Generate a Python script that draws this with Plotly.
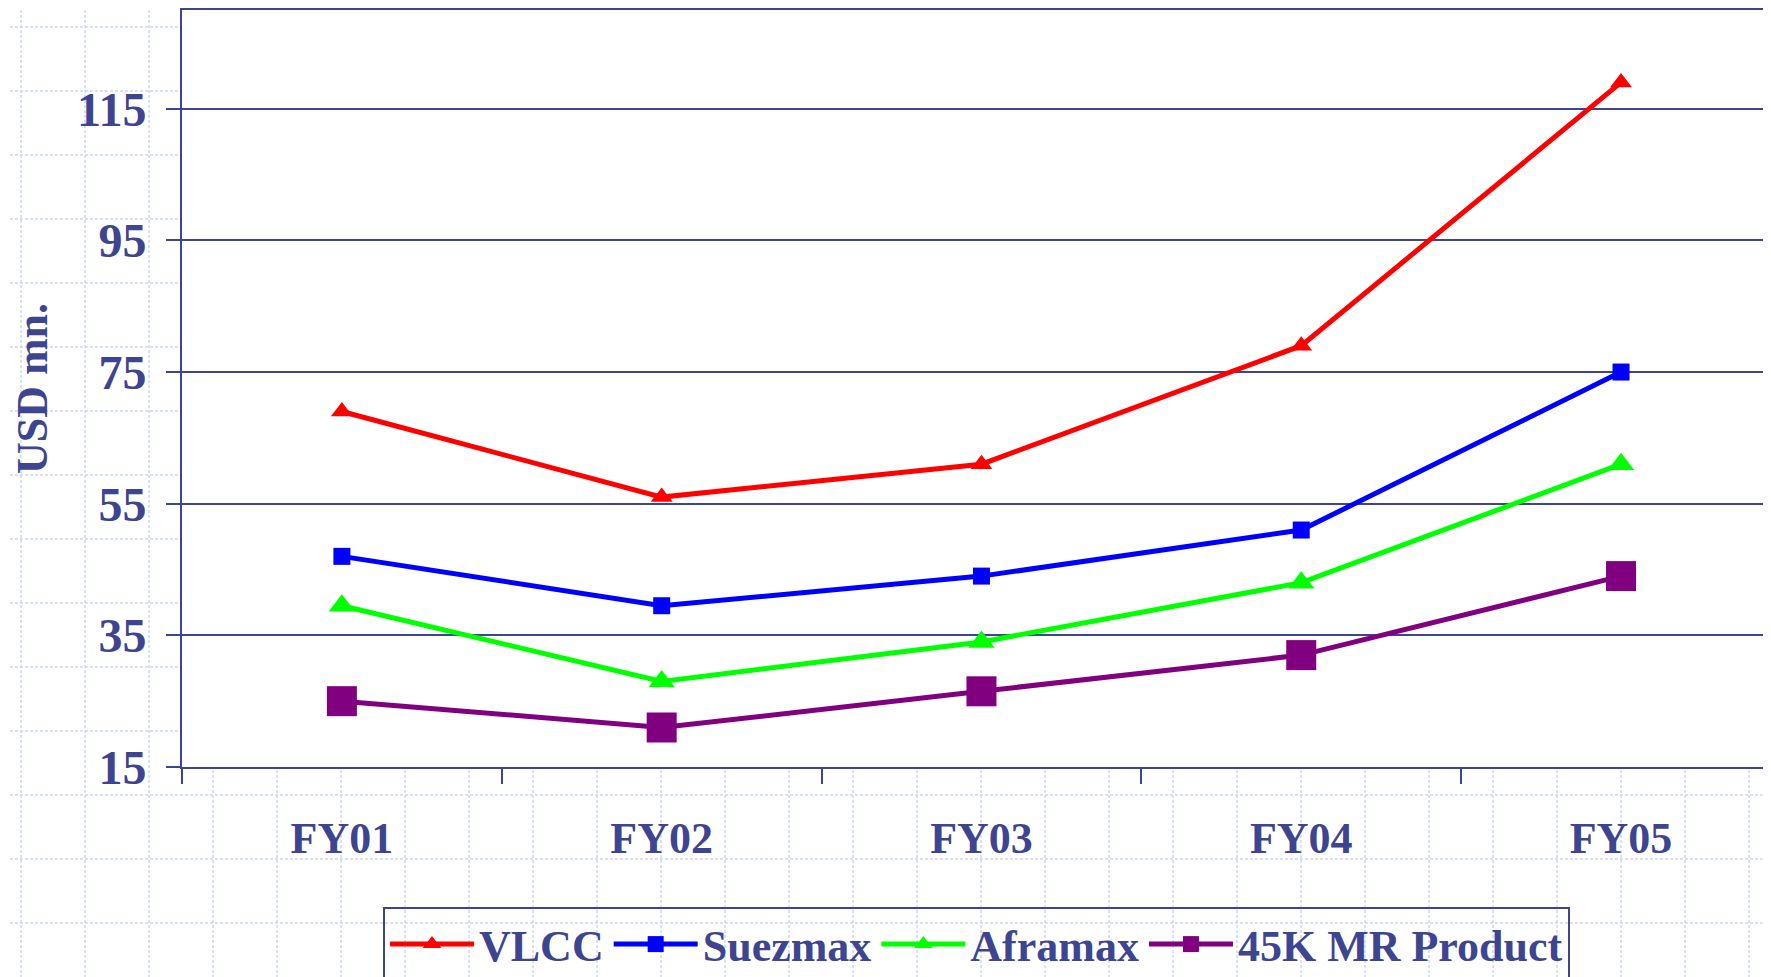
import plotly.graph_objects as go

# 数据
years = ["FY01", "FY02", "FY03", "FY04", "FY05"]
vlcc = [69, 56, 61, 79, 119]
suezmax = [47, 39.5, 44, 51, 75]
aframax = [39.5, 28, 34, 43, 61]
mr_product = [25, 21, 26.5, 32, 44]
y_ticks = [15, 35, 55, 75, 95, 115]

W, H = 1771, 977
OFF = 8  # 页面 body 默认 8px 边距
L, T, B = 182 - OFF, 10 - OFF, 210 + OFF
INK = "#3d4590"
FONT = dict(family="Liberation Serif", size=44, color=INK, weight="bold")
YFONT = dict(FONT, size=48)

series = [
    ("VLCC", vlcc, "#ff0000", "triangle-up", 19),
    ("Suezmax", suezmax, "#0000ff", "square", 17),
    ("Aframax", aframax, "#00ff00", "triangle-up", 23),
    ("45K MR Product", mr_product, "#800080", "square", 30),
]

fig = go.Figure()
for name, vals, color, sym, size in series:
    fig.add_trace(go.Scatter(
        x=years, y=vals, name=name, mode="lines+markers",
        line=dict(color=color, width=5),
        marker=dict(symbol=sym, size=size, color=color),
    ))


# 背景方格纸（虚线），屏幕像素坐标换算成 paper 坐标
def px_x(p):
    return (p - OFF - L) / (W - L)


def px_y(p):
    return (H - B - (p - OFF)) / (H - B - T)


shapes = []
grid_line = dict(color="#cdd8f5", width=1.5, dash="3px,2px")
for k in range(28):
    x = px_x(21 + 64 * k)
    shapes.append(dict(type="line", xref="paper", yref="paper", x0=x, x1=x,
                       y0=px_y(0), y1=px_y(H + OFF), line=grid_line, layer="below"))
for k in range(15):
    y = px_y(27 + 64 * k)
    shapes.append(dict(type="line", xref="paper", yref="paper", x0=px_x(0), x1=px_x(W + OFF),
                       y0=y, y1=y, line=grid_line, layer="below"))
# 绘图区白底盖住方格
shapes.append(dict(type="rect", xref="paper", yref="paper", x0=0, x1=1, y0=0, y1=1,
                   fillcolor="white", line=dict(width=0), layer="below"))

fig.update_layout(
    width=W, height=H,
    margin=dict(l=L, r=0, t=T, b=B, autoexpand=False),
    paper_bgcolor="white",
    plot_bgcolor="white",
    font=FONT,
    shapes=shapes,
    showlegend=True,
    legend=dict(
        orientation="h", x=px_x(383), y=px_y(907), xanchor="left", yanchor="top",
        bgcolor="rgba(0,0,0,0)", bordercolor=INK, borderwidth=2,
        font=FONT, itemsizing="trace", itemwidth=84, traceorder="normal",
    ),
    xaxis=dict(
        type="category", range=[-0.5, 4.494], automargin=False,
        showline=True, linecolor=INK, linewidth=2, mirror=True,
        ticks="outside", tickson="boundaries", ticklen=15, tickwidth=2, tickcolor=INK,
        ticklabelstandoff=31, showgrid=False, tickfont=FONT,
    ),
    yaxis=dict(
        range=[15, 130], tickvals=y_ticks, automargin=False,
        showline=True, linecolor=INK, linewidth=2,
        ticks="outside", ticklen=14, tickwidth=2, tickcolor=INK,
        ticklabelstandoff=10, showgrid=True, gridcolor=INK, gridwidth=2,
        zeroline=False, tickfont=YFONT,
        title=dict(text="USD mn.", font=FONT, standoff=30),
    ),
)

fig.write_html("out.html")
